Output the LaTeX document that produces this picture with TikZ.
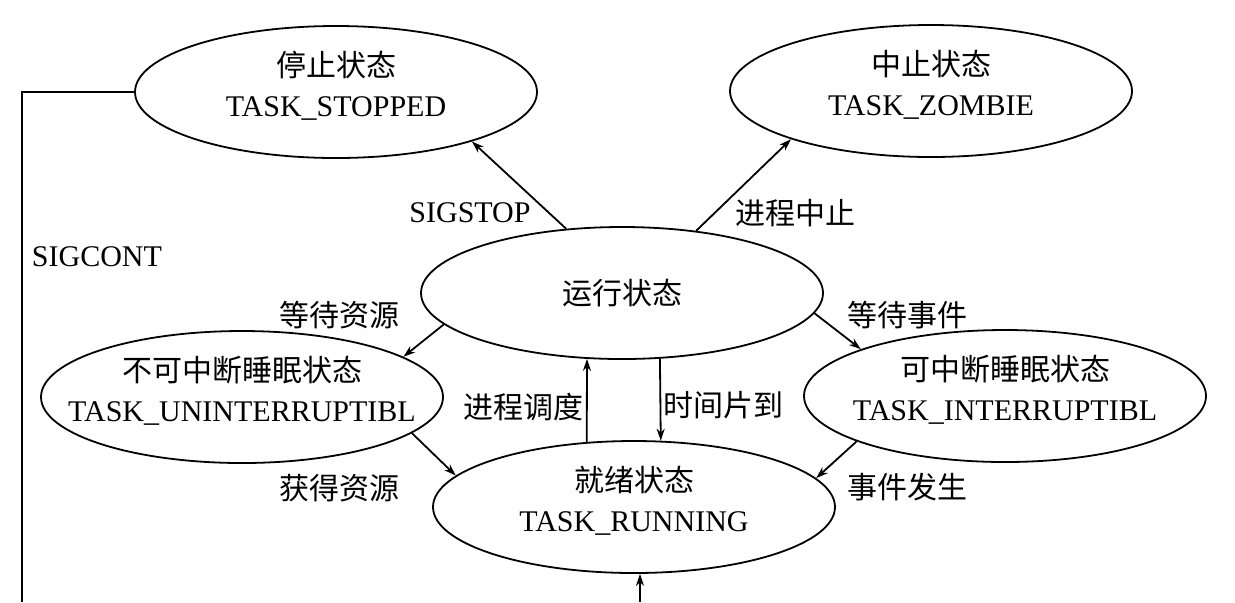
\documentclass[tikz,border=0pt]{standalone}
\usepackage{fontspec}
\setmainfont{Liberation Serif}
\newfontfamily\cjk{Noto Sans CJK SC}
\usetikzlibrary{arrows.meta,shapes.geometric}
\newcommand\statetext[1]{\makebox[0pt][c]{\smash{\raisebox{-2pt}{\begin{tabular}[c]{@{}c@{}}#1\end{tabular}}}}}
\tikzset{
  state/.style={ellipse,draw,line width=0.9pt,minimum width=201pt,minimum height=66pt,inner sep=0pt,font=\fontsize{15pt}{20pt}\selectfont},
  lbl/.style={inner sep=0pt,font=\fontsize{15pt}{18pt}\selectfont},
  conn/.style={line width=0.9pt},
  arr/.style={conn,-{Stealth[length=6pt,width=4pt]}}
}
\begin{document}
\begin{tikzpicture}[x=0.5pt,y=-0.5pt]
\useasboundingbox (0,0) rectangle (1235,602);
\node[state] (stop) at (336,92) {\statetext{{\cjk 停止状态}\\TASK\_STOPPED}};
\node[state] (zomb) at (931,91) {\statetext{{\cjk 中止状态}\\TASK\_ZOMBIE}};
\node[state] (run) at (622,293) {\cjk 运行状态};
\node[state] (unint) at (242,397) {\statetext{{\cjk 不可中断睡眠状态}\\TASK\_UNINTERRUPTIBL}};
\node[state] (int) at (1005,396) {\statetext{{\cjk 可中断睡眠状态}\\TASK\_INTERRUPTIBL}};
\node[state] (ready) at (634,507) {\statetext{{\cjk 就绪状态}\\TASK\_RUNNING}};

\coordinate (sc) at (22,602);
\coordinate (bin) at (640,602);

\draw[arr] (run.131) -- (stop.-20);
\draw[arr] (run.40) -- (zomb.-161);
\draw[arr] (run.190) -- (unint.14);
\draw[arr] (run.-6) -- (int.162);
\draw[arr] (ready.126) -- (run.242);
\draw[arr] (run.-60) -- (ready.68);
\draw[arr] (unint.-12) -- (ready.170);
\draw[arr] (int.-163) -- (ready.9);
\draw[conn] (stop.west) -| (sc);
\draw[arr] (bin) -- (bin |- ready.south);

\node[lbl] (l1) at (470,213) {SIGSTOP};
\node[lbl] (l2) at (795,213) {\cjk 进程中止};
\node[lbl] (l3) at (97,257) {SIGCONT};
\node[lbl] (l4) at (339,315) {\cjk 等待资源};
\node[lbl] (l5) at (907,315) {\cjk 等待事件};
\node[lbl] (l6) at (523,407) {\cjk 进程调度};
\node[lbl] (l7) at (723,405) {\cjk 时间片到};
\node[lbl] (l8) at (339,488) {\cjk 获得资源};
\node[lbl] (l9) at (907,487) {\cjk 事件发生};
\end{tikzpicture}
\end{document}
